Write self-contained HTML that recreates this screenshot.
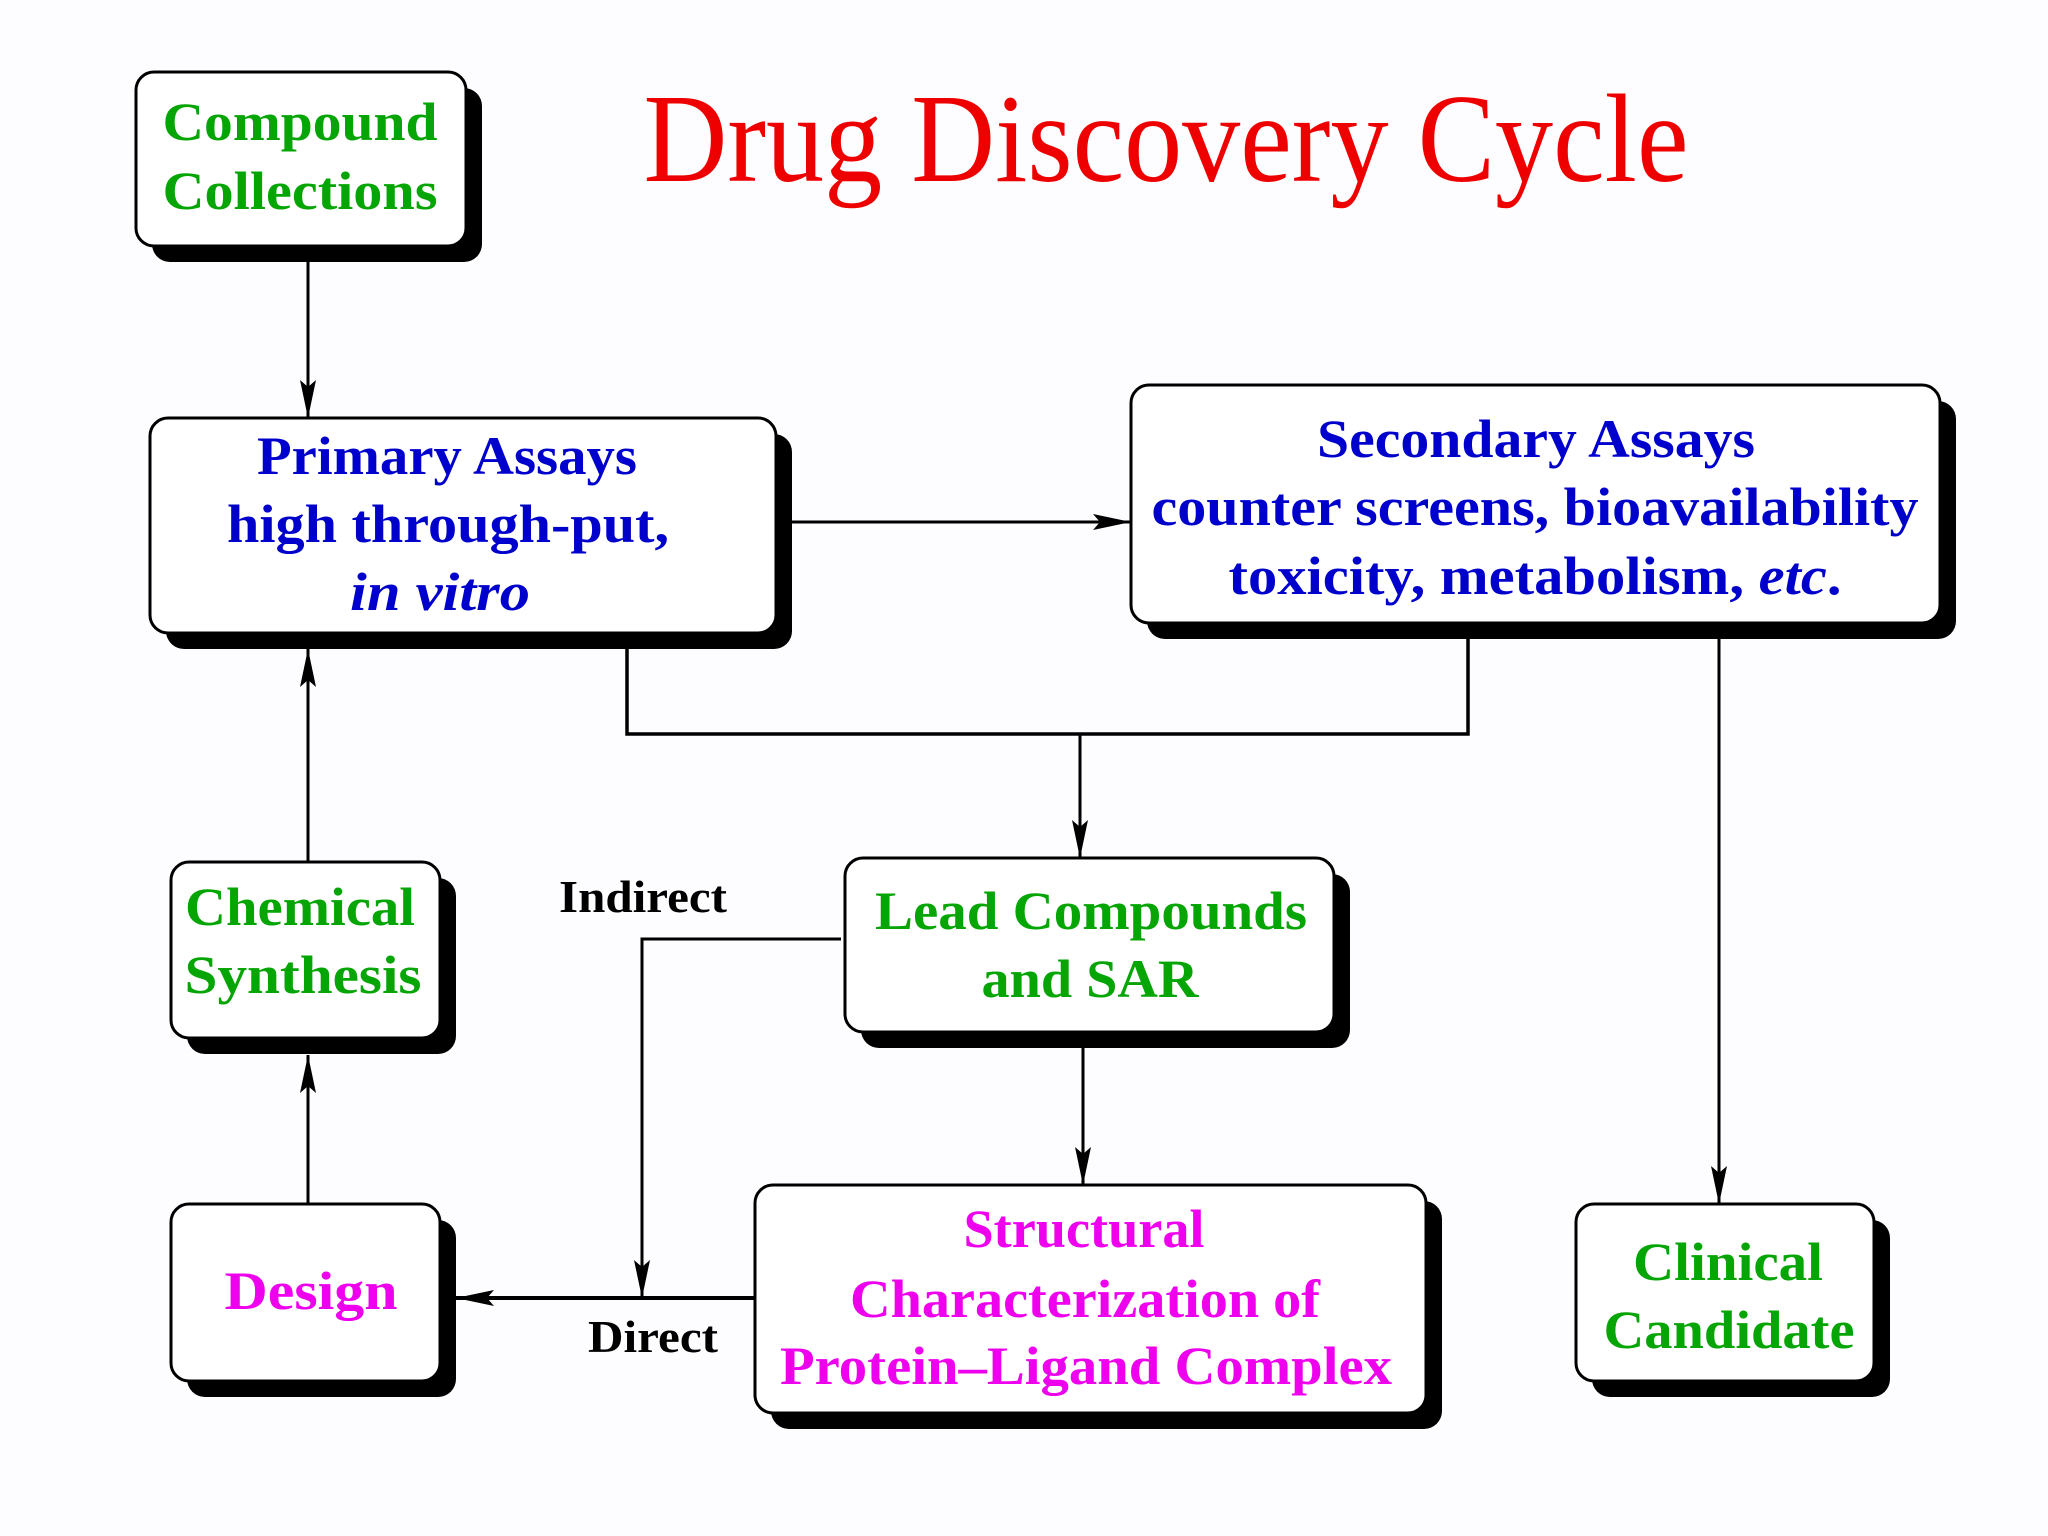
<!DOCTYPE html>
<html><head><meta charset="utf-8"><style>
html,body{margin:0;padding:0;background:#fdfcfe;}
svg{display:block}
text{font-family:"Liberation Serif",serif;font-weight:bold;text-anchor:middle}
.g{fill:#05a505}.b{fill:#0000cc}.m{fill:#ee00ee}.k{fill:#000}
</style></head><body>
<svg width="2048" height="1536" viewBox="0 0 2048 1536" xmlns="http://www.w3.org/2000/svg">
<rect width="2048" height="1536" fill="#fdfcfe"/>
<defs>
<marker id="a" markerWidth="40" markerHeight="20" refX="38" refY="10" orient="auto" markerUnits="userSpaceOnUse">
<path d="M0,2 L38,10 L0,18 L7,10 Z" fill="#000"/></marker>
</defs>
<g fill="none" stroke="#000" stroke-width="3">
<line x1="308" y1="260" x2="308" y2="418" marker-end="url(#a)"/>
<line x1="791" y1="522" x2="1131" y2="522" marker-end="url(#a)"/>
<polyline points="627,649 627,734 1468,734 1468,639" stroke-width="3.5"/>
<line x1="1080" y1="734" x2="1080" y2="858" marker-end="url(#a)"/>
<line x1="1719" y1="639" x2="1719" y2="1204" marker-end="url(#a)"/>
<line x1="308" y1="862" x2="308" y2="649" marker-end="url(#a)"/>
<line x1="308" y1="1204" x2="308" y2="1055" marker-end="url(#a)"/>
<line x1="1083" y1="1047" x2="1083" y2="1185" marker-end="url(#a)"/>
<line x1="755" y1="1298" x2="456" y2="1298" marker-end="url(#a)" stroke-width="4"/>
<polyline points="841,939 642,939 642,1298"/>
<line x1="642" y1="1240" x2="642" y2="1298" marker-end="url(#a)"/>
</g>
<g stroke="#000" stroke-width="3">
<!-- shadows -->
<g fill="#000" stroke="none">
<rect x="152" y="88" width="330" height="174" rx="18"/>
<rect x="166" y="434" width="626" height="215" rx="18"/>
<rect x="1147" y="401" width="809" height="238" rx="18"/>
<rect x="187" y="878" width="269" height="176" rx="18"/>
<rect x="861" y="874" width="489" height="174" rx="18"/>
<rect x="187" y="1220" width="269" height="177" rx="18"/>
<rect x="771" y="1201" width="671" height="228" rx="18"/>
<rect x="1592" y="1220" width="298" height="177" rx="18"/>
</g>
<g fill="#fff">
<rect x="136" y="72" width="330" height="174" rx="18"/>
<rect x="150" y="418" width="626" height="215" rx="18"/>
<rect x="1131" y="385" width="809" height="238" rx="18"/>
<rect x="171" y="862" width="269" height="176" rx="18"/>
<rect x="845" y="858" width="489" height="174" rx="18"/>
<rect x="171" y="1204" width="269" height="177" rx="18"/>
<rect x="755" y="1185" width="671" height="228" rx="18"/>
<rect x="1576" y="1204" width="298" height="177" rx="18"/>
</g>
</g>
<text x="1166" y="181" font-size="126" font-weight="normal" fill="#ee0000" textLength="1045" lengthAdjust="spacingAndGlyphs" style="font-weight:normal">Drug Discovery Cycle</text>
<g font-size="54">
<text class="g" x="300" y="140" textLength="275" lengthAdjust="spacingAndGlyphs">Compound</text>
<text class="g" x="300" y="209" textLength="275" lengthAdjust="spacingAndGlyphs">Collections</text>
<text class="b" x="447" y="474" textLength="380" lengthAdjust="spacingAndGlyphs">Primary Assays</text>
<text class="b" x="448" y="542" textLength="442" lengthAdjust="spacingAndGlyphs">high through-put,</text>
<text class="b" x="440" y="610" textLength="180" lengthAdjust="spacingAndGlyphs" font-style="italic">in vitro</text>
<text class="b" x="1536" y="457" textLength="438" lengthAdjust="spacingAndGlyphs">Secondary Assays</text>
<text class="b" x="1535" y="525" textLength="767" lengthAdjust="spacingAndGlyphs">counter screens, bioavailability</text>
<text class="b" x="1535" y="594" textLength="613" lengthAdjust="spacingAndGlyphs">toxicity, metabolism, <tspan font-style="italic">etc</tspan>.</text>
<text class="g" x="300" y="925" textLength="230" lengthAdjust="spacingAndGlyphs">Chemical</text>
<text class="g" x="303" y="993" textLength="237" lengthAdjust="spacingAndGlyphs">Synthesis</text>
<text class="g" x="1091" y="929" textLength="432" lengthAdjust="spacingAndGlyphs">Lead Compounds</text>
<text class="g" x="1090" y="997" textLength="217" lengthAdjust="spacingAndGlyphs">and SAR</text>
<text class="m" x="311" y="1309" textLength="173" lengthAdjust="spacingAndGlyphs">Design</text>
<text class="m" x="1084" y="1247" textLength="241" lengthAdjust="spacingAndGlyphs">Structural</text>
<text class="m" x="1085" y="1317" textLength="470" lengthAdjust="spacingAndGlyphs">Characterization of</text>
<text class="m" x="1086" y="1384" textLength="612" lengthAdjust="spacingAndGlyphs">Protein–Ligand Complex</text>
<text class="g" x="1728" y="1280" textLength="190" lengthAdjust="spacingAndGlyphs">Clinical</text>
<text class="g" x="1729" y="1348" textLength="251" lengthAdjust="spacingAndGlyphs">Candidate</text>
</g>
<g font-size="46">
<text class="k" x="643" y="912" textLength="168" lengthAdjust="spacingAndGlyphs">Indirect</text>
<text class="k" x="653" y="1352" textLength="130" lengthAdjust="spacingAndGlyphs">Direct</text>
</g>
</svg>
</body></html>
